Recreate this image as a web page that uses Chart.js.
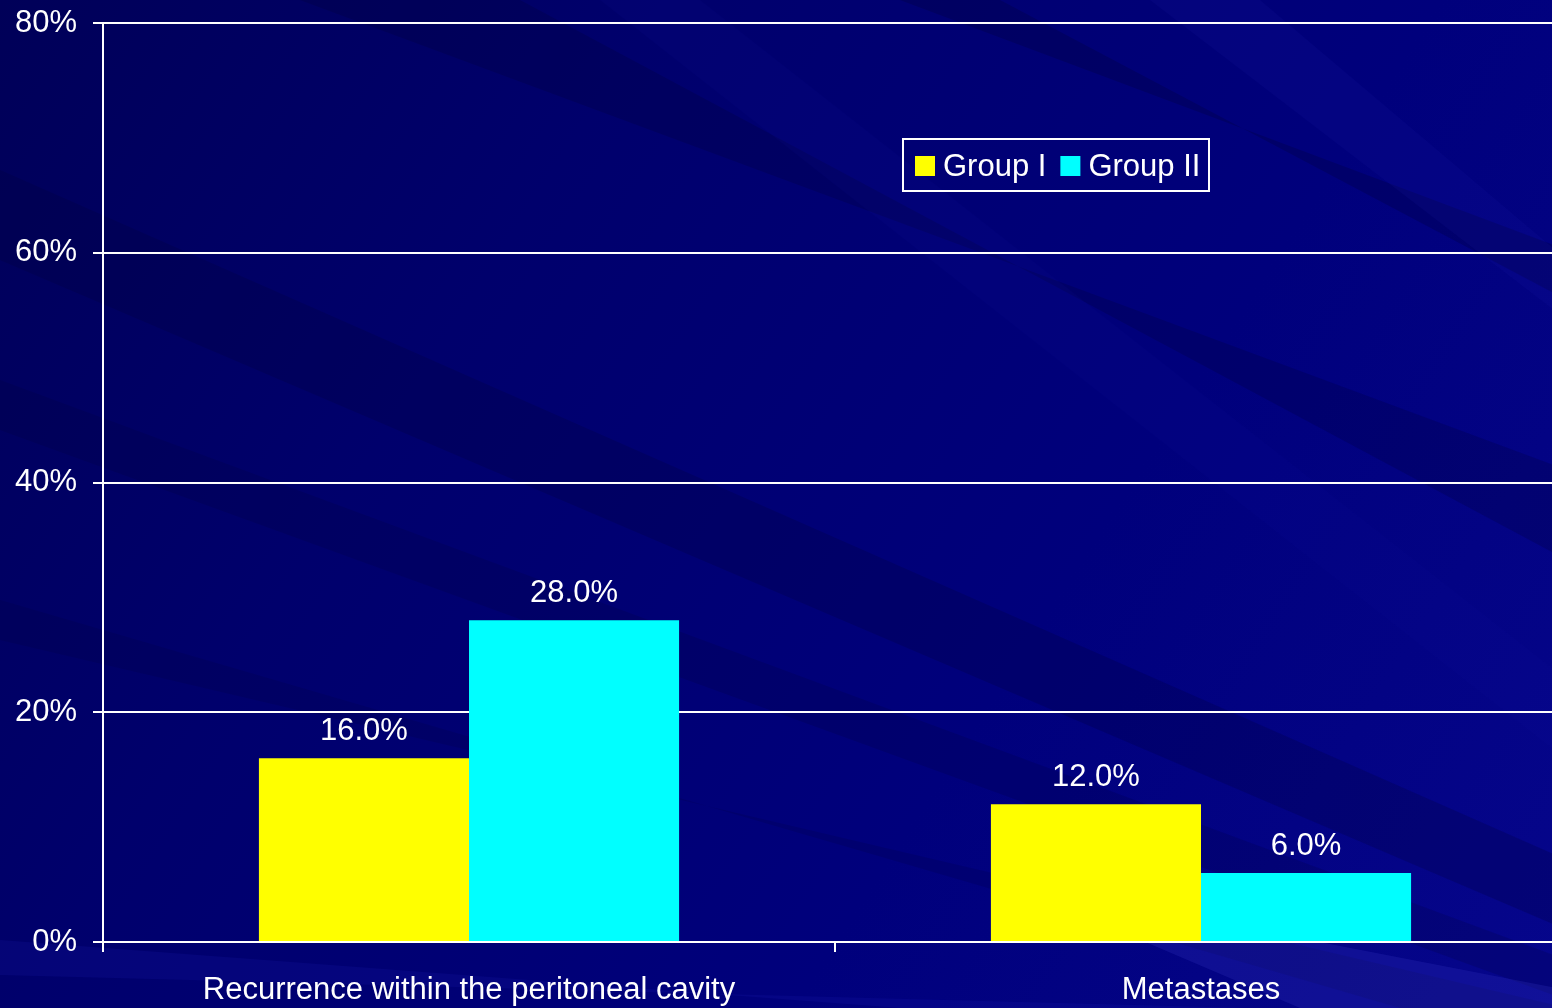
<!DOCTYPE html>
<html>
<head>
<meta charset="utf-8">
<title>Recurrence and metastases</title>
<script src="https://cdn.jsdelivr.net/npm/chart.js@4.4.1/dist/chart.umd.min.js"></script>
<style>
  html, body { margin: 0; padding: 0; background: #000078; overflow: hidden; }
  #wrap { width: 1567px; height: 1008px; position: relative; }
</style>
</head>
<body>
<div id="wrap"><canvas id="chart"></canvas></div>
<script>
// values in percent
const categories = ['Recurrence within the peritoneal cavity', 'Metastases'];
const seriesNames = ['Group I', 'Group II'];
const groupI = [16.0, 12.0];
const groupII = [28.0, 6.0];
const seriesColors = ['#ffff00', '#00ffff'];
const yMax = 80;
const yStep = 20;

const FONT = '"Liberation Sans", Arial, sans-serif';

// slide-style navy background with diagonal streaks
const backdrop = {
  id: 'backdrop',
  beforeDraw(chart) {
    const { ctx, width, height } = chart;
    ctx.save();
    const g = ctx.createLinearGradient(0, 0, width, height);
    g.addColorStop(0, '#000058');
    g.addColorStop(0.3, '#00006c');
    g.addColorStop(0.65, '#00007c');
    g.addColorStop(1, '#06068c');
    ctx.fillStyle = g;
    ctx.fillRect(0, 0, width, height);

    const band = (pts, color) => {
      ctx.beginPath();
      ctx.moveTo(pts[0][0], pts[0][1]);
      for (let i = 1; i < pts.length; i++) ctx.lineTo(pts[i][0], pts[i][1]);
      ctx.closePath();
      ctx.fillStyle = color;
      ctx.fill();
    };
    // darker streaks
    band([[0, 170], [0, 260], [1567, 930], [1567, 860]], 'rgba(0,0,60,0.25)');
    band([[300, 0], [520, 0], [1567, 560], [1567, 470]], 'rgba(0,0,50,0.22)');
    band([[900, 0], [1000, 0], [1567, 300], [1567, 250]], 'rgba(0,0,50,0.25)');
    band([[0, 380], [0, 430], [1567, 1000], [1567, 960]], 'rgba(0,0,60,0.2)');
    band([[0, 600], [0, 640], [1567, 1008], [1400, 1008]], 'rgba(0,0,60,0.18)');
    // lighter streaks
    band([[1150, 0], [1260, 0], [1567, 260], [1567, 320]], 'rgba(30,30,170,0.12)');
    band([[0, 940], [0, 975], [1250, 1008], [900, 1008]], 'rgba(30,30,180,0.18)');
    band([[1000, 880], [1567, 990], [1567, 1008], [1300, 1008]], 'rgba(60,60,200,0.22)');
    band([[600, 0], [700, 0], [1567, 680], [1567, 760]], 'rgba(20,20,160,0.10)');
    ctx.restore();
  }
};

// value labels over each bar
const valueLabels = {
  id: 'valueLabels',
  afterDatasetsDraw(chart) {
    const { ctx } = chart;
    ctx.save();
    ctx.font = '31px ' + FONT;
    ctx.fillStyle = '#ffffff';
    ctx.textAlign = 'center';
    ctx.textBaseline = 'alphabetic';
    chart.data.datasets.forEach((ds, di) => {
      chart.getDatasetMeta(di).data.forEach((bar, i) => {
        ctx.fillText(ds.data[i].toFixed(1) + '%', bar.x, bar.y - 18);
      });
    });
    ctx.restore();
  }
};

// boxed legend in the upper right of the plot
const boxLegend = {
  id: 'boxLegend',
  afterDraw(chart) {
    const { ctx } = chart;
    const x0 = 903, y0 = 139, w = 306, h = 52;
    ctx.save();
    ctx.strokeStyle = '#ffffff';
    ctx.lineWidth = 2;
    ctx.strokeRect(x0, y0, w, h);
    ctx.font = '31px ' + FONT;
    ctx.textBaseline = 'middle';
    ctx.textAlign = 'left';
    let x = x0 + 12;
    chart.data.datasets.forEach(ds => {
      ctx.fillStyle = ds.backgroundColor;
      ctx.fillRect(x, y0 + 17, 20, 20);
      ctx.fillStyle = '#ffffff';
      ctx.fillText(ds.label, x + 28, y0 + h / 2 + 2);
      x += 28 + ctx.measureText(ds.label).width + 14;
    });
    ctx.restore();
  }
};

new Chart(document.getElementById('chart'), {
  type: 'bar',
  data: {
    labels: categories,
    datasets: [
      { label: seriesNames[0], data: groupI, backgroundColor: seriesColors[0] },
      { label: seriesNames[1], data: groupII, backgroundColor: seriesColors[1] }
    ]
  },
  options: {
    responsive: true,
    maintainAspectRatio: false,
    animation: false,
    layout: { padding: { top: 23, left: 0, right: 0, bottom: 0 } },
    datasets: {
      bar: { categoryPercentage: 0.574, barPercentage: 1.0, borderWidth: 0 }
    },
    plugins: {
      legend: { display: false },
      tooltip: { enabled: false }
    },
    scales: {
      x: {
        offset: true,
        grid: {
          offset: true,
          drawOnChartArea: false,
          drawTicks: true,
          tickLength: 10,
          color: '#ffffff',
          lineWidth: 2
        },
        border: { display: true, color: '#ffffff', width: 2 },
        ticks: {
          color: '#ffffff',
          font: { family: FONT, size: 31 },
          padding: 20,
          maxRotation: 0,
          autoSkip: false
        },
        afterFit(scale) {
          scale.height = 66;
          scale.paddingLeft = 0;
          scale.paddingRight = 0;
        }
      },
      y: {
        min: 0,
        max: yMax,
        grid: {
          color: '#ffffff',
          lineWidth: 2,
          drawTicks: true,
          tickLength: 10
        },
        border: { display: true, color: '#ffffff', width: 2 },
        ticks: {
          stepSize: yStep,
          color: '#ffffff',
          font: { family: FONT, size: 31 },
          padding: 16,
          callback: v => v + '%'
        },
        afterFit(scale) {
          scale.width = 103;
          scale.paddingTop = 0;
          scale.paddingBottom = 0;
        }
      }
    }
  },
  plugins: [backdrop, valueLabels, boxLegend]
});
</script>
</body>
</html>
